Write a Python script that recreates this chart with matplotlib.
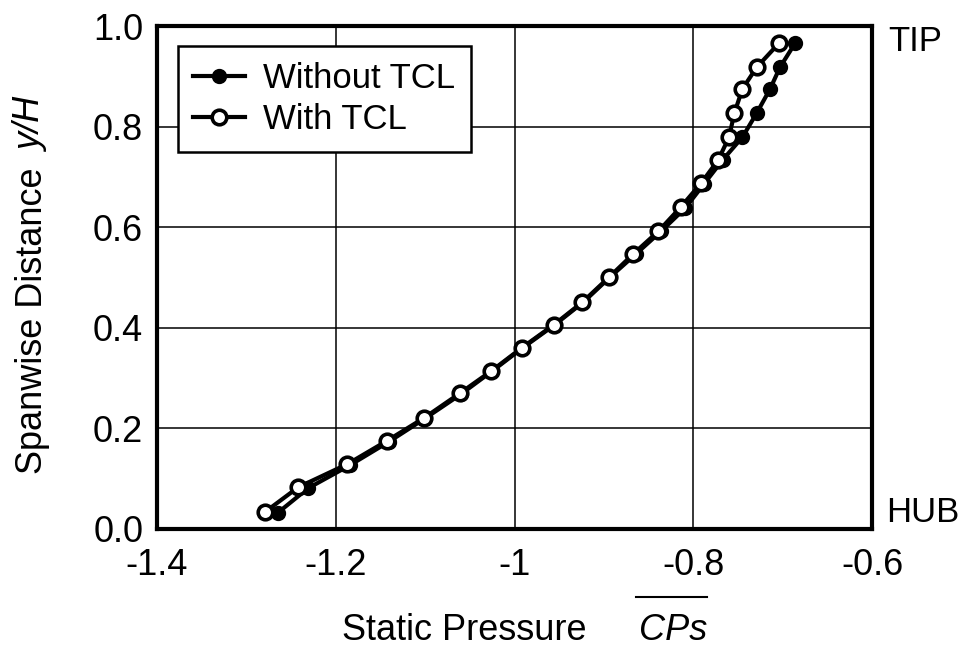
import matplotlib
matplotlib.use("Agg")
import matplotlib.pyplot as plt
from matplotlib.lines import Line2D

plt.rcParams['font.family'] = ['Liberation Sans', 'DejaVu Sans']
plt.rcParams['axes.unicode_minus'] = False

# Data: static pressure CPs (x) vs spanwise distance y/H (y)
y_without = [0.032, 0.081, 0.127, 0.173, 0.220, 0.268, 0.314, 0.360, 0.406, 0.451,
             0.501, 0.547, 0.592, 0.638, 0.686, 0.734, 0.779, 0.827, 0.875, 0.918, 0.966]
cp_without = [-1.265, -1.231, -1.184, -1.141, -1.100, -1.060, -1.025, -0.991, -0.955, -0.923,
              -0.893, -0.864, -0.836, -0.809, -0.788, -0.767, -0.745, -0.729, -0.714, -0.703, -0.686]

y_with = [0.034, 0.083, 0.129, 0.175, 0.221, 0.270, 0.314, 0.360, 0.406, 0.451,
          0.501, 0.547, 0.592, 0.640, 0.688, 0.734, 0.779, 0.827, 0.875, 0.918, 0.966]
cp_with = [-1.279, -1.242, -1.187, -1.143, -1.101, -1.061, -1.026, -0.992, -0.956, -0.924,
           -0.894, -0.867, -0.839, -0.814, -0.791, -0.772, -0.760, -0.754, -0.745, -0.729, -0.704]

x_ticks = [-1.4, -1.2, -1.0, -0.8, -0.6]
x_ticklabels = ['-1.4', '-1.2', '-1', '-0.8', '-0.6']
y_ticks = [0.0, 0.2, 0.4, 0.6, 0.8, 1.0]
y_ticklabels = ['0.0', '0.2', '0.4', '0.6', '0.8', '1.0']

FS = 25

fig = plt.figure(figsize=(9.7, 6.5), dpi=100)
ax = fig.add_axes([0.1619, 0.1862, 0.899 - 0.1619, 0.96 - 0.1862])

ax.plot(cp_without, y_without, '-o', color='black', lw=3, markersize=9.5,
        markerfacecolor='black', markeredgecolor='black', markeredgewidth=1.5,
        label='Without TCL', zorder=3)
ax.plot(cp_with, y_with, '-o', color='black', lw=3, markersize=10.5,
        markerfacecolor='white', markeredgecolor='black', markeredgewidth=2.6,
        label='With TCL', zorder=4)

ax.set_xlim(-1.4, -0.6)
ax.set_ylim(0.0, 1.0)
ax.set_xticks(x_ticks)
ax.set_xticklabels(x_ticklabels)
ax.set_yticks(y_ticks)
ax.set_yticklabels(y_ticklabels)
ax.tick_params(axis='both', length=0, labelsize=26)
ax.tick_params(axis='x', pad=14)
ax.tick_params(axis='y', pad=10)
ax.grid(True, color='black', lw=1.1)
ax.set_axisbelow(True)
for s in ax.spines.values():
    s.set_linewidth(3)
    s.set_color('black')

leg = ax.legend(loc='upper left', bbox_to_anchor=(0.029, 0.96), fontsize=FS,
                frameon=True, fancybox=False, framealpha=1, edgecolor='black',
                handlelength=1.5, handletextpad=0.5, borderpad=0.45, labelspacing=0.25,
                borderaxespad=0)
leg.get_frame().set_linewidth(1.8)

# Side annotations
ax.text(1.022, 0.97, 'TIP', transform=ax.transAxes, fontsize=FS, va='center', ha='left')
ax.text(1.02, 0.032, 'HUB', transform=ax.transAxes, fontsize=FS, va='center', ha='left')

# x label
fig.text(0.479, 0.016, 'Static Pressure', fontsize=FS + 1, ha='center', va='baseline')
fig.text(0.694, 0.016, 'CPs', fontsize=FS + 1, ha='center', va='baseline', style='italic')
fig.add_artist(Line2D([0.656, 0.729], [0.0815, 0.0815], transform=fig.transFigure,
                      color='black', lw=1.5))

# y label
fig.text(0.033, 0.506, 'Spanwise Distance', fontsize=FS + 1, rotation=90,
         ha='center', va='center')
fig.text(0.033, 0.808, 'y/H', fontsize=FS + 1, rotation=90, ha='center', va='center',
         style='italic')

fig.savefig('out.png', dpi=100)
